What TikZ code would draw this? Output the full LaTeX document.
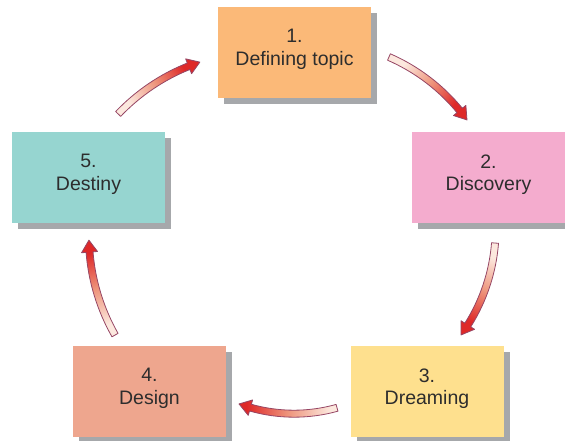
\documentclass[tikz,border=0pt]{standalone}
\usepackage{fontspec}
\setmainfont{Liberation Sans}
\usepackage{xcolor}
\usepackage{tikz}
\usetikzlibrary{calc, shadows}

\definecolor{stageorange}{RGB}{251,185,120}
\definecolor{stagepink}{RGB}{244,172,206}
\definecolor{stageyellow}{RGB}{254,224,142}
\definecolor{stagesalmon}{RGB}{238,166,142}
\definecolor{stageteal}{RGB}{150,213,208}
\definecolor{shadowgray}{RGB}{166,168,171}
\definecolor{textgray}{RGB}{45,45,45}
\definecolor{arrowpale}{RGB}{252,232,222}
\definecolor{arrowmid}{RGB}{238,150,125}
\definecolor{arrowred}{RGB}{222,40,40}
\definecolor{arrowedge}{RGB}{150,70,100}

\pgfdeclarehorizontalshading{arrowfade}{100bp}{color(0bp)=(arrowpale); color(28bp)=(arrowpale);
  color(50bp)=(arrowmid); color(72bp)=(arrowred); color(100bp)=(arrowred)}

% curved fat arrow: centre, radius, tail angle, tip angle, shading angle
\newcommand{\cyclearrow}[5]{%
  \pgfmathsetmacro{\baseang}{#4+12/#2*180/pi}%
  \path[arrow_body, shading angle=#5]
    ($(#1)+(#3:{#2+3.5})$) arc[start angle=#3, end angle=\baseang, radius=#2+3.5]
    -- ($(#1)+(\baseang:{#2+8})$) -- ($(#1)+(#4:#2)$) -- ($(#1)+(\baseang:{#2-8})$)
    -- ($(#1)+(\baseang:{#2-3.5})$) arc[start angle=\baseang, end angle=#3, radius=#2-3.5]
    -- cycle;
}

\begin{document}
\begin{tikzpicture}[
    x=1pt, y=1pt,
    stage/.style={rectangle, minimum width=153pt, minimum height=91pt, align=center,
        text=textgray, font=\fontsize{19.5}{22.5}\selectfont, text depth=10pt,
        drop shadow={shadow xshift=6pt, shadow yshift=-6pt, fill=shadowgray, opacity=1}},
    arrow_body/.style={draw=arrowedge, line width=0.8pt, line join=round,
        shading=arrowfade}
]
\useasboundingbox (0,0) rectangle (565,440);
\clip (0,0) rectangle (565,440);

% Nodes
\node[stage, fill=stageorange] (topic) at (294.5,387.5) {1.\\Defining topic};
\node[stage, fill=stagepink] (discovery) at (488.5,262.5) {2.\\Discovery};
\node[stage, fill=stageyellow] (dreaming) at (427,48.5) {3.\\Dreaming};
\node[stage, fill=stagesalmon] (design) at (149.5,48.5) {4.\\Design};
\node[stage, fill=stageteal] (destiny) at (88.5,262.5) {5.\\Destiny};

% Arc centres
\coordinate (c12) at (312.9,208.9);
\coordinate (c23) at (315.6,211.1);
\coordinate (c34) at (294,186.3);
\coordinate (c45) at (288.9,203.7);
\coordinate (c51) at (263,188.1);

% Arrows
\cyclearrow{c12}{190}{66.4}{35.8}{-38.9}
\cyclearrow{c23}{180}{-4.5}{-36.1}{-110.3}
\cyclearrow{c34}{160}{-74.4}{-110.1}{177.7}
\cyclearrow{c45}{200}{-150.4}{-178.9}{105.3}
\cyclearrow{c51}{200}{136.4}{108.4}{32.4}

\end{tikzpicture}
\end{document}
